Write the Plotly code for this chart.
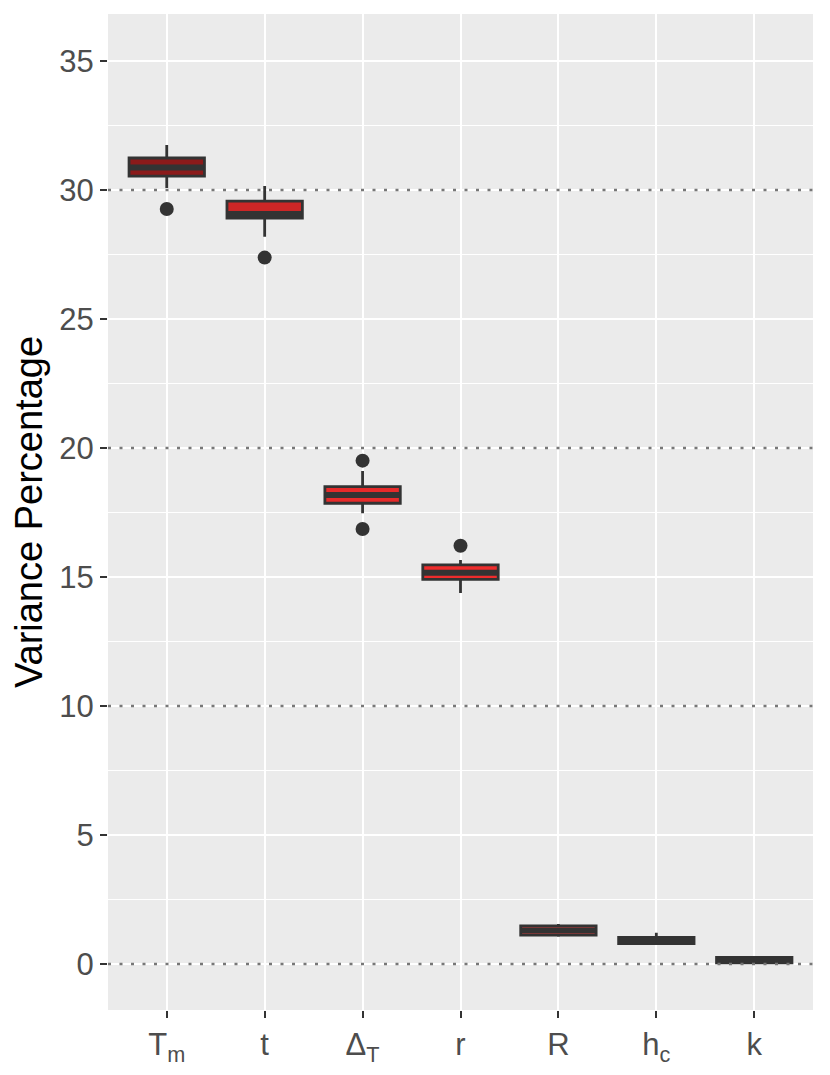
import plotly.graph_objects as go

cats = ['T<sub>m</sub>', 't', 'Δ<sub>T</sub>', 'r', 'R', 'h<sub>c</sub>', 'k']
q1 = [30.54, 28.91, 17.86, 14.91, 1.12, 0.79, 0.05]
median = [30.87, 29.07, 18.18, 15.17, 1.30, 0.92, 0.15]
q3 = [31.24, 29.57, 18.50, 15.47, 1.48, 1.03, 0.26]
lower = [30.08, 28.19, 17.47, 14.38, 1.06, 0.79, 0.05]
upper = [31.74, 30.15, 19.11, 15.66, 1.55, 1.21, 0.28]
fills = ['#8B1A1A', '#CD2626', '#E62A2A', '#EE2C2C', '#F04040', '#F25050', '#F46060']

out_x = ['T<sub>m</sub>', 't', 'Δ<sub>T</sub>', 'Δ<sub>T</sub>', 'r']
out_y = [29.26, 27.38, 19.51, 16.86, 16.21]

ref_lines = [0, 10, 20, 30]

dark = '#333333'

fig = go.Figure()
for i, c in enumerate(cats):
    fig.add_trace(go.Box(
        x=[c], q1=[q1[i]], median=[median[i]], q3=[q3[i]],
        lowerfence=[lower[i]], upperfence=[upper[i]],
        fillcolor=fills[i],
        line=dict(color=dark, width=2.8),
        whiskerwidth=0,
        width=0.77,
        boxpoints=False,
        showlegend=False,
        hoverinfo='skip',
    ))

# thicker median bar, like ggplot
fig.add_trace(go.Scatter(
    x=cats, y=median, mode='markers',
    marker=dict(symbol='line-ew', size=53, line=dict(color=dark, width=6)),
    showlegend=False, hoverinfo='skip',
))

fig.add_trace(go.Scatter(
    x=out_x, y=out_y, mode='markers',
    marker=dict(color=dark, size=14),
    showlegend=False,
))

for v in ref_lines:
    fig.add_shape(type='line', xref='paper', x0=0, x1=1, yref='y', y0=v, y1=v,
                  line=dict(color='#777777', width=2.6, dash='3px,8.5px'), layer='above')

fig.update_layout(
    width=822, height=1067,
    margin=dict(l=100, r=17, t=6, b=65),
    paper_bgcolor='white',
    plot_bgcolor='#EBEBEB',
    boxmode='overlay',
    font=dict(family='Liberation Sans, Arial, sans-serif'),
    xaxis=dict(
        type='category', categoryorder='array', categoryarray=cats,
        range=[-0.6, 6.6],
        showgrid=True, gridcolor='white', gridwidth=2.4,
        ticks='outside', ticklen=7, tickwidth=2.4, tickcolor=dark,
        tickfont=dict(size=31, color='#4D4D4D'),
        zeroline=False, showline=False,
    ),
    yaxis=dict(
        title=dict(text='Variance Percentage', font=dict(size=38, color='black'), standoff=14),
        range=[-1.78, 36.82],
        tick0=0, dtick=5,
        showgrid=True, gridcolor='white', gridwidth=2.4,
        minor=dict(dtick=2.5, showgrid=True, gridcolor='white', gridwidth=1.2),
        ticks='outside', ticklen=7, tickwidth=2.4, tickcolor=dark,
        tickfont=dict(size=31, color='#4D4D4D'),
        zeroline=False, showline=False,
    ),
)

fig.write_html('out.html')
